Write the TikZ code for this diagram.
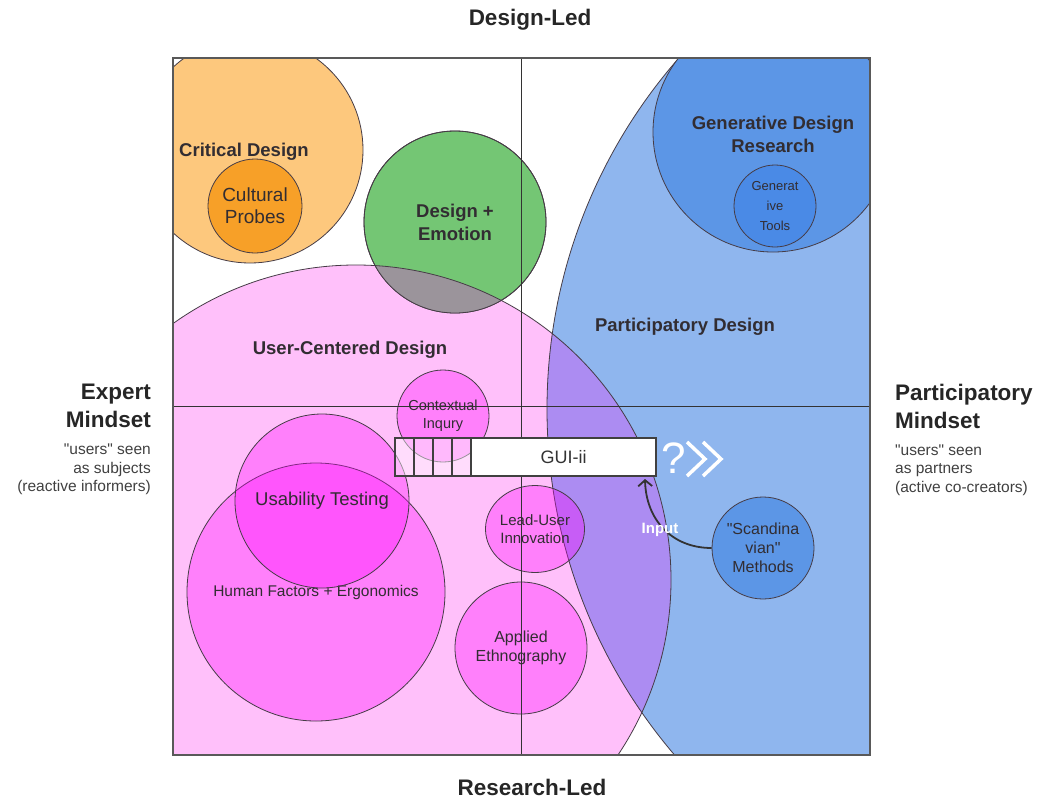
\documentclass[tikz,border=0pt]{standalone}
\usepackage{fontspec}
\setmainfont{Liberation Sans}
\usetikzlibrary{positioning,arrows.meta,shapes.geometric}

\definecolor{critical}{RGB}{253,200,125}
\definecolor{probes}{RGB}{247,160,40}
\definecolor{emotion}{RGB}{116,198,116}
\definecolor{overlap}{RGB}{155,148,155}
\definecolor{ucd}{RGB}{255,192,250}
\definecolor{pd}{RGB}{143,182,238}
\definecolor{mixed}{RGB}{172,140,242}
\definecolor{gdr}{RGB}{92,150,230}
\definecolor{tools}{RGB}{74,138,230}
\definecolor{methodfill}{RGB}{255,0,255}
\definecolor{edge}{RGB}{70,60,70}
\definecolor{ink}{RGB}{50,45,50}

\tikzset{
  blob/.style={circle, draw=edge, line width=0.8pt, inner sep=0pt, align=center, text=ink},
  method/.style={blob, fill=methodfill, fill opacity=0.33, text opacity=1},
  heading/.style={font=\fontsize{18.5}{23}\selectfont\bfseries, text=ink, align=center},
  axis/.style={font=\fontsize{22.5}{28}\selectfont\bfseries, text=black!85, inner sep=0pt},
  note/.style={font=\fontsize{15.5}{18.5}\selectfont, text=black!75, inner sep=0pt},
  guibox/.style={draw=black!75, line width=1.1pt, fill=white, minimum width=185pt, minimum height=38pt, inner sep=0pt, outer sep=0pt, font=\fontsize{18}{20}\selectfont, text=black!80},
  cell/.style={draw=black!75, line width=1.1pt, fill=white, fill opacity=0.45, minimum width=19pt, minimum height=38pt, inner sep=0pt, outer sep=0pt},
  divider/.style={draw=black!80, line width=1pt},
  border/.style={draw=black!65, line width=1.2pt},
  chevron/.style={draw=white, line width=3.5pt},
}

\begin{document}
\begin{tikzpicture}[x=1pt, y=-1pt]
  \useasboundingbox (0,0) rectangle (1040,800);
  \node[minimum width=697pt, minimum height=697pt, inner sep=0pt, outer sep=0pt] (frame) at (521.5,406.5) {};

  \begin{scope}
    \clip (frame.south west) rectangle (frame.north east);
    % design-led corner
    \filldraw[fill=critical, draw=edge, line width=0.8pt] (250,150) circle[radius=113pt];
    \node[blob, fill=probes, minimum size=94pt, font=\fontsize{19}{22}\selectfont] (probes) at (255,206) {Cultural\\Probes};
    \fill[ucd] (356,580) circle[radius=315pt];
    \node[blob, fill=emotion, minimum size=182pt, font=\fontsize{18.5}{23}\selectfont\bfseries] (emotion) at (455,222) {Design +\\Emotion};
    \begin{scope}
      \clip (356,580) circle[radius=315pt];
      \fill[overlap] (emotion.center) circle[radius=91pt];
    \end{scope}
    % participatory side
    \fill[pd] (1080,409) circle[radius=533pt];
    \begin{scope}
      \clip (356,580) circle[radius=315pt];
      \fill[mixed] (1080,409) circle[radius=533pt];
    \end{scope}
    \draw[edge, line width=0.8pt] (356,580) circle[radius=315pt];
    \draw[edge, line width=0.8pt] (1080,409) circle[radius=533pt];
    \draw[edge, line width=0.8pt] (emotion.center) circle[radius=91pt];
    \node[blob, fill=gdr, minimum size=240pt] (gdr) at (773,132) {};
    \node[blob, fill=tools, minimum size=82pt, font=\fontsize{13}{20}\selectfont] (tools) at (775,206) {Generat\\ive\\Tools};
    % research methods
    \node[method, minimum size=258pt, font=\fontsize{15.5}{18}\selectfont] (hf) at (316,592) {Human Factors + Ergonomics};
    \node[method, minimum size=174pt, font=\fontsize{18.5}{22}\selectfont] (usability) at (322,501) {Usability Testing};
    \node[method, minimum size=92pt, font=\fontsize{14.5}{18}\selectfont] (inquiry) at (443,416) {Contextual\\Inqury};
    \node[method, ellipse, minimum width=98pt, minimum height=87pt, font=\fontsize{15}{18}\selectfont] (leaduser) at (535,529) {Lead-User\\Innovation};
    \node[method, minimum size=132pt, font=\fontsize{16}{19}\selectfont] (ethno) at (521,648) {Applied\\Ethnography};
  \end{scope}

  \draw[divider] (frame.north) -- (frame.south);
  \draw[divider] (frame.west) -- (frame.east);

  \node[blob, fill=gdr, minimum size=102pt, font=\fontsize{16}{19}\selectfont] (scand) at (763,548) {\textquotedbl Scandina\\vian\textquotedbl\\Methods};

  \node[heading] (criticallabel) at (244,152) {Critical Design};
  \node[heading] (gdrlabel) at (773,134) {Generative Design\\Research};
  \node[heading] (ucdlabel) at (350,350) {User-Centered Design};
  \node[heading] (pdlabel) at (685,327) {Participatory Design};

  % the GUI-ii strip
  \node[guibox] (gui) at (563.5,457) {GUI-ii};
  \node[cell, left=0pt of gui] (cell4) {};
  \node[cell, left=0pt of cell4] (cell3) {};
  \node[cell, left=0pt of cell3] (cell2) {};
  \node[cell, left=0pt of cell2] (cell1) {};

  \node[font=\fontsize{44}{44}\selectfont, text=white, inner sep=0pt] (qmark) at (674,458) {?};
  \draw[chevron] (687,442) -- (705,459) -- (687,476);
  \draw[chevron] (703,442) -- (721,459) -- (703,476);

  \coordinate (inputend) at ([xshift=-11pt, yshift=-3pt]gui.south east);
  \draw[-{Straight Barb[length=6pt, width=14pt]}, line width=1.8pt, draw=black!80] (scand.west) .. controls (672,548) and (646,520) .. (inputend);
  \node[font=\fontsize{15}{18}\selectfont\bfseries, text=white] (inputlabel) at (660,530) {Input};

  \draw[border] (frame.south west) rectangle (frame.north east);

  % axes
  \node[axis] (designled) at (530,20) {Design-Led};
  \node[axis] (researchled) at (532,787) {Research-Led};
  \node[axis, align=right, anchor=east] (expert) at (151,406) {Expert\\Mindset};
  \node[note, align=right, below=16pt of expert.south east, anchor=north east] (expertnote) {\textquotedbl users\textquotedbl{} seen\\as subjects\\(reactive informers)};
  \node[axis, align=left, anchor=west] (partner) at (895,406) {Participatory\\Mindset};
  \node[note, align=left, below=16pt of partner.south west, anchor=north west] (partnernote) {\textquotedbl users\textquotedbl{} seen\\as partners\\(active co-creators)};
\end{tikzpicture}
\end{document}
